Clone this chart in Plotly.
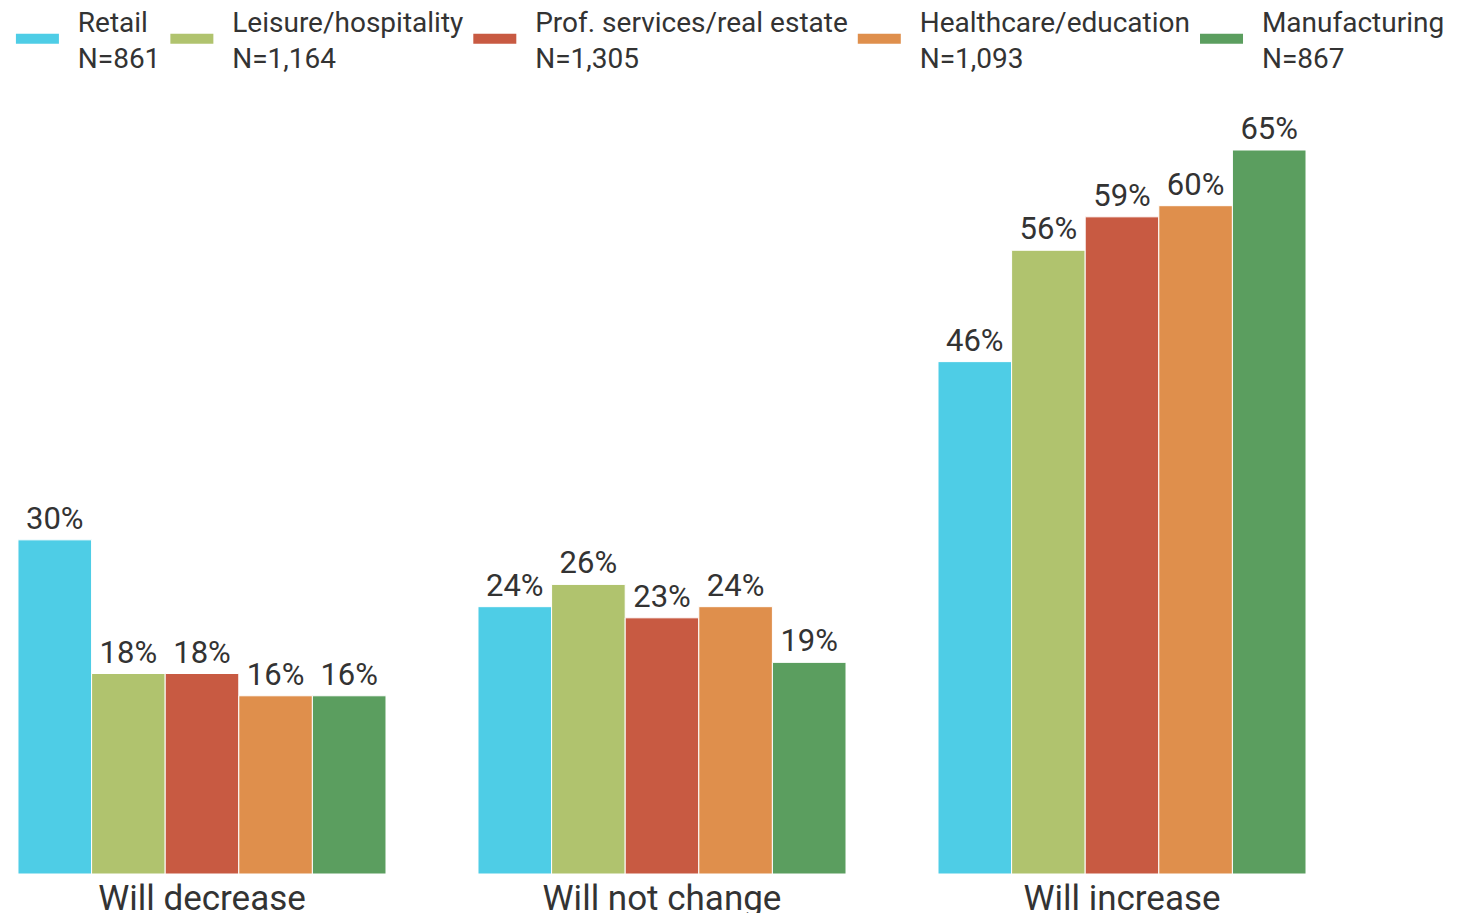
import plotly.graph_objects as go

categories = ["Will decrease", "Will not change", "Will increase"]
series_names = [
    "Retail<br>N=861",
    "Leisure/hospitality<br>N=1,164",
    "Prof. services/real estate<br>N=1,305",
    "Healthcare/education<br>N=1,093",
    "Manufacturing<br>N=867",
]
retail = [30, 24, 46]
leisure = [18, 26, 56]
prof_services = [18, 23, 59]
healthcare = [16, 24, 60]
manufacturing = [16, 19, 65]
series_values = [retail, leisure, prof_services, healthcare, manufacturing]
colors = ["#4ECDE6", "#B0C36E", "#C85A42", "#DF8F4C", "#5B9E5F"]

pad = "\u00a0\u00a0"

fig = go.Figure()
for name, vals, col in zip(series_names, series_values, colors):
    fig.add_trace(go.Bar(
        x=categories, y=vals, name=name, showlegend=False,
        marker=dict(color=col, line=dict(color="white", width=1)),
        texttemplate="%{y}%", textposition="outside",
        textfont=dict(size=31, color="#333333", family="Roboto"),
        cliponaxis=False,
    ))
for name, col in zip(series_names, colors):
    legend_name = "<br>".join(pad + part for part in name.split("<br>"))
    fig.add_trace(go.Scatter(
        x=[None], y=[None], mode="lines", name=legend_name,
        line=dict(color=col, width=13),
    ))

fig.update_layout(
    width=1458, height=913,
    margin=dict(l=0, r=0, t=92, b=47, autoexpand=False),
    plot_bgcolor="white", paper_bgcolor="white",
    font=dict(family="Roboto", color="#333333"),
    barmode="group", bargap=0.2, bargroupgap=0,
    showlegend=True,
    legend=dict(
        orientation="h", x=0.002, y=1.1344, xref="paper", yref="paper",
        xanchor="left", yanchor="top", itemwidth=43,
        font=dict(size=28, color="#333333", family="Roboto"),
        tracegroupgap=0, itemclick=False,
    ),
    xaxis=dict(
        range=[-0.4217, 2.7478], showgrid=False, showline=False, zeroline=False,
        ticks="", tickfont=dict(size=35, color="#333333", family="Roboto"),
    ),
    yaxis=dict(range=[0, 69.49], visible=False),
)

fig.write_html("out.html")
